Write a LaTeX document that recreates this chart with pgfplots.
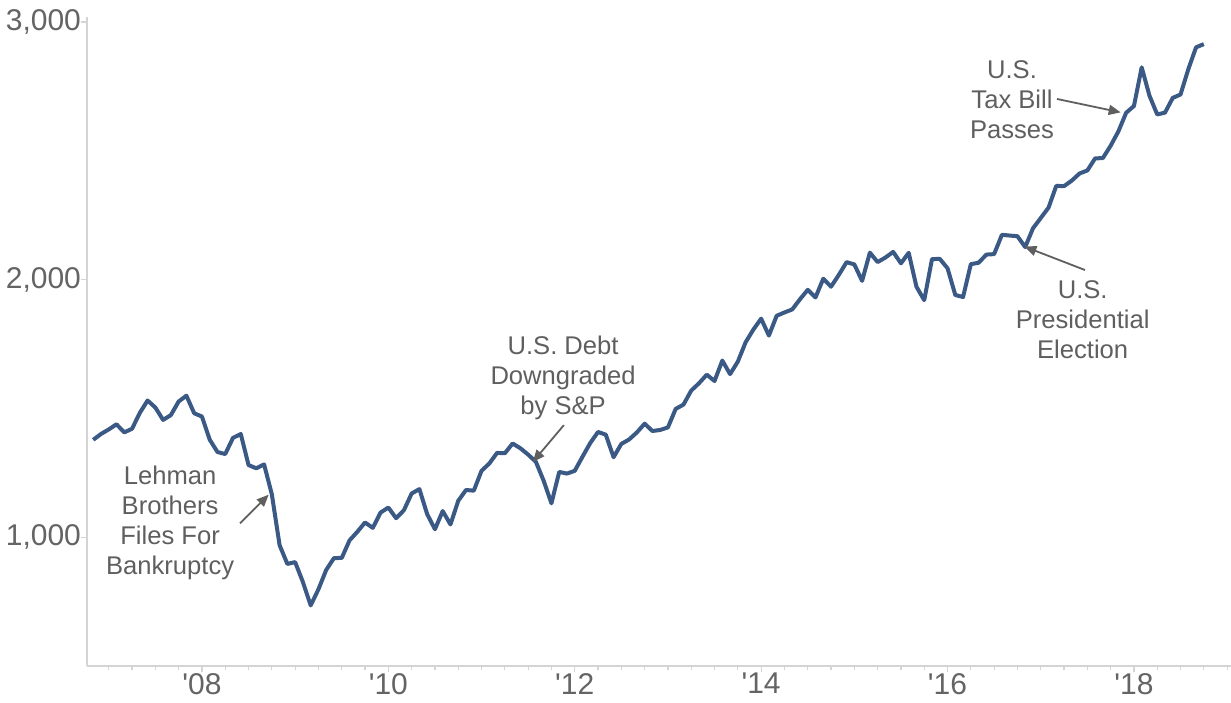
\documentclass[border=0pt]{standalone}
\usepackage{fontspec}
\setmainfont{Liberation Sans}
\usepackage{pgfplots}
\pgfplotsset{compat=1.18}
\usetikzlibrary{arrows.meta}

\definecolor{spx}{RGB}{59,89,133}
\definecolor{axisgray}{RGB}{212,212,212}
\definecolor{labelgray}{RGB}{100,100,100}
\definecolor{notegray}{RGB}{95,95,95}

% S&P 500 month-end closes, x = months after end of 2006
\pgfplotstableread{
m v
-2 1377.94
-1 1400.63
0 1418.30
1 1438.24
2 1406.82
3 1420.86
4 1482.37
5 1530.62
6 1503.35
7 1455.27
8 1473.99
9 1526.75
10 1549.38
11 1481.14
12 1468.36
13 1378.55
14 1330.63
15 1322.70
16 1385.59
17 1400.38
18 1280.00
19 1267.38
20 1282.83
21 1166.36
22 968.75
23 896.24
24 903.25
25 825.88
26 735.09
27 797.87
28 872.81
29 919.14
30 919.32
31 987.48
32 1020.62
33 1057.08
34 1036.19
35 1095.63
36 1115.10
37 1073.87
38 1104.49
39 1169.43
40 1186.69
41 1089.41
42 1030.71
43 1101.60
44 1049.33
45 1141.20
46 1183.26
47 1180.55
48 1257.64
49 1286.12
50 1327.22
51 1325.83
52 1363.61
53 1345.20
54 1320.64
55 1292.28
56 1218.89
57 1131.42
58 1253.30
59 1246.96
60 1257.60
61 1312.41
62 1365.68
63 1408.47
64 1397.91
65 1310.33
66 1362.16
67 1379.32
68 1406.58
69 1440.67
70 1412.16
71 1416.18
72 1426.19
73 1498.11
74 1514.68
75 1569.19
76 1597.57
77 1630.74
78 1606.28
79 1685.73
80 1632.97
81 1681.55
82 1756.54
83 1805.81
84 1848.36
85 1782.59
86 1859.45
87 1872.34
88 1883.95
89 1923.57
90 1960.23
91 1930.67
92 2003.37
93 1972.29
94 2018.05
95 2067.56
96 2058.90
97 1994.99
98 2104.50
99 2067.89
100 2085.51
101 2107.39
102 2063.11
103 2103.84
104 1972.18
105 1920.03
106 2079.36
107 2080.41
108 2043.94
109 1940.24
110 1932.23
111 2059.74
112 2065.30
113 2096.95
114 2098.86
115 2173.60
116 2170.95
117 2168.27
118 2126.15
119 2198.81
120 2238.83
121 2278.87
122 2363.64
123 2362.72
124 2384.20
125 2411.80
126 2423.41
127 2470.30
128 2471.65
129 2519.36
130 2575.26
131 2647.58
132 2673.61
133 2823.81
134 2713.83
135 2640.87
136 2648.05
137 2705.27
138 2718.37
139 2816.29
140 2901.52
141 2913.98
}\spxdata

\begin{document}
\begin{tikzpicture}
\begin{axis}[
  scale only axis,
  width=572pt, height=324.6pt,
  xmin=-2.8, xmax=144.5,
  ymin=500, ymax=3020,
  axis lines*=left,
  axis line style={axisgray, line width=0.8pt},
  xtick={12,36,60,84,108,132},
  xticklabels={\textquotesingle08,\textquotesingle10,\textquotesingle12,\textquotesingle14,\textquotesingle16,\textquotesingle18},
  minor xtick={-3,0,3,6,9,15,18,21,24,27,30,33,39,42,45,48,51,54,57,63,66,69,72,75,78,81,87,90,93,96,99,102,105,111,114,117,120,123,126,129,135,138,141,144},
  ytick={1000,2000,3000},
  tick align=outside,
  major tick length=3pt,
  minor tick length=2pt,
  tick style={axisgray, line width=0.6pt},
  /pgf/number format/assume math mode=true,
  /pgf/number format/1000 sep={,},
  ticklabel style={font=\fontsize{15}{18}\selectfont, text=labelgray},
  xticklabel style={yshift=3pt},
  yticklabel style={xshift=3.5pt},
  clip=false,
]
\addplot[spx, line width=2pt, line join=round] table[x=m, y=v] {\spxdata};

\begin{scope}[every node/.style={align=center, text=notegray, font=\fontsize{12.8}{15}\selectfont},
  note/.style={-{Triangle[length=6pt,width=5pt]}, notegray, line width=0.9pt}]
\node at (axis cs:7.9,1054) {Lehman\\Brothers\\Files For\\Bankruptcy};
\draw[note] (axis cs:16.9,1054) -- (axis cs:20.6,1165);
\node at (axis cs:58.5,1617) {U.S. Debt\\Downgraded\\by S\&P};
\draw[note] (axis cs:58.6,1435) -- (axis cs:54.6,1292);
\node at (axis cs:116.3,2697) {U.S.\\Tax Bill\\Passes};
\draw[note] (axis cs:122.1,2701) -- (axis cs:130.3,2649);
\node at (axis cs:125.4,1843) {U.S.\\Presidential\\Election};
\draw[note] (axis cs:125.7,2037) -- (axis cs:117.9,2128);
\end{scope}
\end{axis}
\pgfresetboundingbox
\path ([xshift=-43.5pt,yshift=-18pt]current axis.south west) rectangle ([yshift=8.4pt]current axis.north east);
\end{tikzpicture}
\end{document}
